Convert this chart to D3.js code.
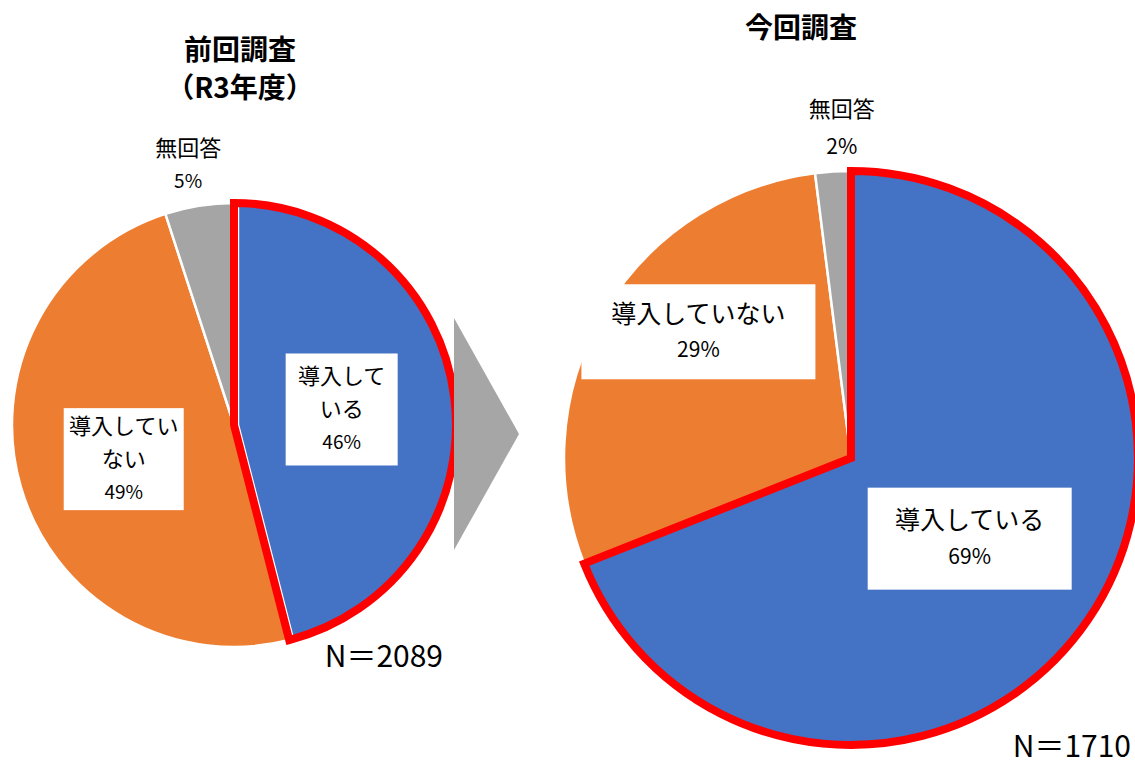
<!DOCTYPE html>
<html lang="ja">
<head>
<meta charset="utf-8">
<title>導入状況 前回・今回</title>
<script src="https://d3js.org/d3.v7.min.js"></script>
<style>
  body { margin: 0; background: #fff; }
  text { font-family: "Noto Sans CJK JP", "Noto Sans", sans-serif; fill: #000; }
</style>
</head>
<body>
<script>
// data
var categories = ["導入している", "導入していない", "無回答"];
var colors = ["#4472C4", "#ED7D31", "#A5A5A5"];
var prevValues = [46, 49, 5];
var currValues = [69, 29, 2];
var prevLines = [["導入して", "いる"], ["導入してい", "ない"], ["無回答"]];
var currLines = [["導入している"], ["導入していない"], ["無回答"]];
var prevN = 2089;
var currN = 1710;

var w = 1135, h = 765;

var svg = d3.select("body").append("svg")
  .attr("width", w)
  .attr("height", h);

// layout for each pie
var pies = [
  {
    title: ["前回調査", "（R3年度）"], titleX: 240, titleY: 60,
    values: prevValues, lines: prevLines, n: prevN,
    cx: 234, cy: 425, r: 222, explode: 4, gap: 33,
    // label: radius factor, angle shift (deg), box w, box h, boxed?
    labels: [[0.49, -1, 112, 112, true], [0.52, -1, 120, 102, true], [1.19, -1, 0, 0, false]],
    nX: 443, nY: 667
  },
  {
    title: ["今回調査"], titleX: 801, titleY: 38,
    values: currValues, lines: currLines, n: currN,
    cx: 851, cy: 458, r: 287, explode: 0, gap: 37,
    labels: [[0.5, 0, 204, 102, true], [0.69, 9, 234, 95, true], [1.15, 2, 0, 0, false]],
    nX: 1131, nY: 757
  }
];

var pie = d3.pie().sort(null).value(function(d){ return d; });

pies.forEach(function(p){
  var g = svg.append("g").attr("transform", "translate(" + p.cx + "," + p.cy + ")");
  var arcs = pie(p.values);
  var arc = d3.arc().innerRadius(0).outerRadius(p.r);

  // slices
  g.selectAll("path.slice")
    .data(arcs)
    .enter()
    .append("path")
    .attr("class", "slice")
    .attr("d", arc)
    .attr("fill", function(d, i){ return colors[i]; })
    .attr("stroke", "#fff")
    .attr("stroke-width", 2.5)
    .attr("transform", function(d, i){
      if (i != 0 || !p.explode) return null;
      var a = (d.startAngle + d.endAngle) / 2;
      return "translate(" + (Math.sin(a) * p.explode) + "," + (-Math.cos(a) * p.explode) + ")";
    });

  // red outline on 導入している
  g.append("path")
    .attr("d", arc(arcs[0]))
    .attr("fill", "none")
    .attr("stroke", "#FF0000")
    .attr("stroke-width", 8)
    .attr("stroke-linejoin", "miter");

  // labels
  arcs.forEach(function(d, i){
    var lp = p.labels[i];
    var a = (d.startAngle + d.endAngle) / 2 + lp[1] * Math.PI / 180;
    var lx = Math.sin(a) * p.r * lp[0];
    var ly = -Math.cos(a) * p.r * lp[0];
    var lg = g.append("g").attr("transform", "translate(" + lx + "," + ly + ")");
    if (lp[4]) {
      lg.append("rect")
        .attr("x", -lp[2] / 2).attr("y", -lp[3] / 2)
        .attr("width", lp[2]).attr("height", lp[3])
        .attr("fill", "#fff");
    }
    var big = p === pies[1];
    var lineH = lp[4] ? (big ? 36 : 33) : p.gap;
    var rows = p.lines[i].concat([p.values[i] + "%"]);
    var y0 = -(rows.length - 1) * lineH / 2;
    rows.forEach(function(t, k){
      var isPct = k == rows.length - 1;
      lg.append("text")
        .attr("x", 0)
        .attr("y", y0 + k * lineH)
        .attr("dy", "0.35em")
        .attr("text-anchor", "middle")
        .attr("font-size", isPct ? (big ? 21 : 19) : (big && lp[4] ? 25 : 22))
        .text(t);
    });
  });

  // title
  p.title.forEach(function(t, k){
    svg.append("text")
      .attr("x", p.titleX)
      .attr("y", p.titleY + k * 38)
      .attr("text-anchor", "middle")
      .attr("font-size", 28)
      .attr("font-weight", "bold")
      .text(t);
  });

  // N
  svg.append("text")
    .attr("x", p.nX)
    .attr("y", p.nY)
    .attr("text-anchor", "end")
    .attr("font-size", 30)
    .text("N＝" + p.n);
});

// arrow
svg.append("path")
  .attr("d", "M454,318 L519,434 L454,550 Z")
  .attr("fill", "#A6A6A6");
</script>
</body>
</html>
